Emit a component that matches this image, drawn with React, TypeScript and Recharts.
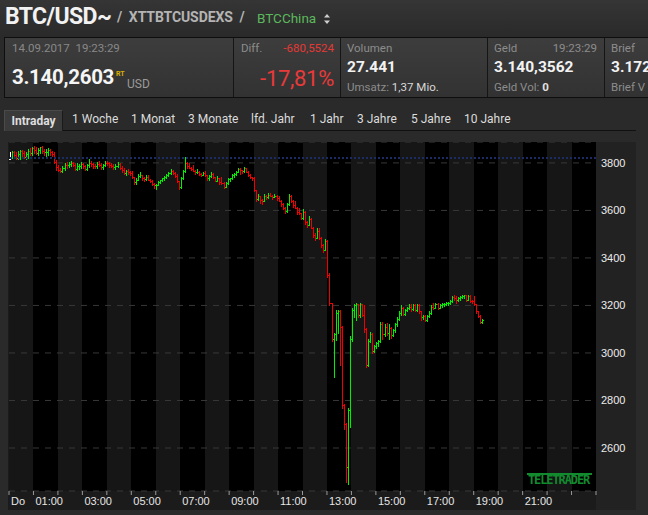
import { ComposedChart, Bar, XAxis, YAxis, CartesianGrid, ReferenceLine } from 'recharts'

// 5-minute OHLC bars, 00:00 .. 19:20 (one row of 12 per hour)
const OPEN = [
  3818, 3826, 3845, 3832, 3820, 3838, 3850, 3840, 3825, 3836, 3852, 3840,
  3862, 3855, 3842, 3856, 3865, 3850, 3845, 3848, 3855, 3845, 3838, 3805,
  3782, 3772, 3765, 3778, 3792, 3790, 3796, 3800, 3790, 3775, 3785, 3788,
  3795, 3785, 3775, 3790, 3800, 3795, 3788, 3785, 3796, 3792, 3782, 3790,
  3800, 3798, 3790, 3788, 3782, 3788, 3795, 3780, 3770, 3758, 3765, 3760,
  3758, 3740, 3718, 3730, 3745, 3748, 3735, 3732, 3742, 3730, 3722, 3712,
  3705, 3708, 3720, 3726, 3735, 3740, 3748, 3756, 3768, 3758, 3745, 3722,
  3700, 3735, 3765, 3800, 3785, 3780, 3775, 3768, 3760, 3762, 3755, 3750,
  3758, 3748, 3735, 3745, 3755, 3740, 3725, 3735, 3720, 3715, 3700, 3715,
  3732, 3735, 3748, 3752, 3762, 3775, 3770, 3765, 3778, 3762, 3750, 3740,
  3735, 3685, 3650, 3660, 3645, 3640, 3660, 3655, 3665, 3662, 3658, 3662,
  3652, 3640, 3628, 3610, 3598, 3625, 3660, 3638, 3622, 3612, 3592, 3588,
  3570, 3595, 3550, 3540, 3565, 3528, 3498, 3485, 3515, 3485, 3455, 3435,
  3470, 3330, 3210, 3058, 3080, 3170, 3178, 3110, 2780, 2700, 2520, 2760,
  3060, 3180, 3200, 3205, 3160, 3205, 3160, 3100, 2950, 3050, 3080, 3010,
  3030, 3040, 3050, 3120, 3080, 3110, 3085, 3105, 3075, 3095, 3120, 3145,
  3170, 3190, 3165, 3180, 3190, 3195, 3185, 3200, 3180, 3200, 3175, 3150,
  3155, 3140, 3155, 3170, 3195, 3190, 3205, 3190, 3200, 3205, 3208, 3210,
  3212, 3220, 3235, 3230, 3225, 3232, 3235, 3240, 3242, 3225, 3240, 3220,
  3218, 3205, 3175, 3155, 3130,
]
const HIGH = [
  3848, 3852, 3852, 3846, 3850, 3855, 3856, 3850, 3848, 3858, 3862, 3868,
  3870, 3866, 3862, 3868, 3870, 3860, 3858, 3862, 3860, 3852, 3845, 3812,
  3792, 3780, 3785, 3798, 3802, 3805, 3808, 3805, 3798, 3800, 3795, 3805,
  3800, 3792, 3795, 3815, 3808, 3800, 3796, 3805, 3806, 3800, 3795, 3806,
  3810, 3805, 3800, 3795, 3795, 3802, 3800, 3785, 3778, 3770, 3775, 3768,
  3768, 3742, 3735, 3752, 3760, 3750, 3740, 3750, 3748, 3734, 3730, 3715,
  3712, 3725, 3730, 3738, 3745, 3752, 3760, 3776, 3772, 3762, 3752, 3725,
  3740, 3772, 3825, 3805, 3798, 3784, 3790, 3772, 3775, 3765, 3758, 3762,
  3765, 3750, 3748, 3762, 3758, 3742, 3745, 3738, 3740, 3718, 3720, 3738,
  3738, 3752, 3758, 3768, 3780, 3778, 3772, 3782, 3780, 3765, 3755, 3742,
  3740, 3688, 3668, 3662, 3650, 3668, 3664, 3672, 3672, 3665, 3668, 3664,
  3660, 3645, 3632, 3614, 3630, 3668, 3665, 3642, 3640, 3615, 3610, 3590,
  3605, 3598, 3555, 3575, 3568, 3532, 3505, 3525, 3525, 3490, 3460, 3480,
  3475, 3335, 3212, 3085, 3180, 3182, 3180, 3115, 2785, 2705, 2770, 3070,
  3190, 3205, 3212, 3208, 3210, 3208, 3200, 3105, 3060, 3090, 3082, 3035,
  3045, 3055, 3130, 3130, 3120, 3125, 3120, 3110, 3100, 3125, 3150, 3175,
  3200, 3195, 3185, 3195, 3205, 3205, 3205, 3205, 3205, 3205, 3178, 3160,
  3160, 3160, 3175, 3200, 3210, 3210, 3210, 3205, 3210, 3212, 3215, 3215,
  3222, 3240, 3242, 3238, 3235, 3238, 3245, 3245, 3245, 3242, 3242, 3225,
  3240, 3208, 3178, 3158, 3145,
]
const LOW = [
  3815, 3820, 3825, 3815, 3815, 3818, 3830, 3822, 3818, 3822, 3832, 3835,
  3840, 3836, 3835, 3840, 3842, 3835, 3830, 3832, 3832, 3830, 3800, 3772,
  3766, 3762, 3762, 3770, 3778, 3782, 3788, 3785, 3770, 3770, 3775, 3780,
  3780, 3770, 3770, 3782, 3788, 3780, 3778, 3778, 3785, 3775, 3776, 3785,
  3792, 3782, 3782, 3776, 3776, 3782, 3775, 3762, 3752, 3750, 3752, 3748,
  3735, 3712, 3712, 3728, 3740, 3728, 3725, 3730, 3728, 3718, 3708, 3695,
  3692, 3706, 3715, 3724, 3730, 3738, 3745, 3754, 3755, 3740, 3720, 3690,
  3695, 3732, 3762, 3780, 3778, 3770, 3765, 3752, 3756, 3750, 3745, 3748,
  3745, 3728, 3730, 3742, 3738, 3722, 3722, 3712, 3712, 3695, 3698, 3712,
  3722, 3732, 3740, 3750, 3760, 3755, 3758, 3762, 3760, 3745, 3738, 3728,
  3680, 3640, 3645, 3632, 3625, 3638, 3648, 3652, 3660, 3650, 3655, 3645,
  3638, 3620, 3605, 3590, 3595, 3622, 3635, 3615, 3610, 3585, 3585, 3565,
  3565, 3542, 3532, 3538, 3525, 3490, 3475, 3482, 3480, 3445, 3425, 3432,
  3320, 3200, 3050, 2898, 3055, 3085, 2950, 2770, 2680, 2455, 2450, 2690,
  3050, 3150, 3140, 3150, 3150, 3155, 3090, 2940, 2945, 3045, 3000, 3005,
  3020, 3030, 3045, 3060, 3070, 3075, 3060, 3065, 3070, 3090, 3115, 3140,
  3160, 3160, 3160, 3175, 3185, 3178, 3180, 3175, 3178, 3170, 3140, 3145,
  3135, 3135, 3150, 3165, 3185, 3188, 3185, 3188, 3195, 3198, 3200, 3202,
  3205, 3215, 3225, 3212, 3220, 3225, 3230, 3232, 3220, 3222, 3215, 3210,
  3200, 3170, 3150, 3125, 3128,
]
const CLOSE = [
  3826, 3845, 3832, 3820, 3838, 3850, 3840, 3825, 3836, 3852, 3840, 3862,
  3855, 3842, 3856, 3865, 3850, 3845, 3848, 3855, 3845, 3838, 3805, 3782,
  3772, 3765, 3778, 3792, 3790, 3796, 3800, 3790, 3775, 3785, 3788, 3795,
  3785, 3775, 3790, 3800, 3795, 3788, 3785, 3796, 3792, 3782, 3790, 3800,
  3798, 3790, 3788, 3782, 3788, 3795, 3780, 3770, 3758, 3765, 3760, 3758,
  3740, 3718, 3730, 3745, 3748, 3735, 3732, 3742, 3730, 3722, 3712, 3705,
  3708, 3720, 3726, 3735, 3740, 3748, 3756, 3768, 3758, 3745, 3722, 3700,
  3735, 3765, 3800, 3785, 3780, 3775, 3768, 3760, 3762, 3755, 3750, 3758,
  3748, 3735, 3745, 3755, 3740, 3725, 3735, 3720, 3715, 3700, 3715, 3732,
  3735, 3748, 3752, 3762, 3775, 3770, 3765, 3778, 3762, 3750, 3740, 3735,
  3685, 3650, 3660, 3645, 3640, 3660, 3655, 3665, 3662, 3658, 3662, 3652,
  3640, 3628, 3610, 3598, 3625, 3660, 3638, 3622, 3612, 3592, 3588, 3570,
  3595, 3550, 3540, 3565, 3528, 3498, 3485, 3515, 3485, 3455, 3435, 3470,
  3330, 3210, 3058, 3080, 3170, 3178, 3110, 2780, 2700, 2520, 2760, 3060,
  3180, 3200, 3205, 3160, 3205, 3160, 3100, 2950, 3050, 3080, 3010, 3030,
  3040, 3050, 3120, 3080, 3110, 3085, 3105, 3075, 3095, 3120, 3145, 3170,
  3190, 3165, 3180, 3190, 3195, 3185, 3200, 3180, 3200, 3175, 3150, 3155,
  3140, 3155, 3170, 3195, 3190, 3205, 3190, 3200, 3205, 3208, 3210, 3212,
  3220, 3235, 3230, 3225, 3232, 3235, 3240, 3242, 3225, 3240, 3220, 3218,
  3205, 3175, 3155, 3130, 3140,
]

const BAR_MINUTES = 5
const PREV_CLOSE = 3820.81
const Y_TICKS = [2600, 2800, 3000, 3200, 3400, 3600, 3800]
const HOUR_TICKS = [
  0, 60, 120, 180, 240, 300, 360, 420, 480, 540, 600, 660, 720,
  780, 840, 900, 960, 1020, 1080, 1140, 1200, 1260, 1320, 1380, 1440,
]
const HOUR_LABELS: Record<number, string> = {
  0: 'Do', 60: '01:00', 180: '03:00', 300: '05:00', 420: '07:00', 540: '09:00',
  660: '11:00', 780: '13:00', 900: '15:00', 1020: '17:00', 1140: '19:00', 1260: '21:00',
}
const TABS = ['Intraday', '1 Woche', '1 Monat', '3 Monate', 'lfd. Jahr', '1 Jahr', '3 Jahre', '5 Jahre', '10 Jahre']
const TAB_X = [4, 72, 131, 188, 251, 310, 357, 411, 464]

const rows = OPEN.map((open, i) => ({
  t: i * BAR_MINUTES + BAR_MINUTES / 2,
  range: [LOW[i], HIGH[i]],
  open,
  close: CLOSE[i],
}))

const UP = '#00f000'
const DOWN = '#f00000'

function OhlcBar(props: any) {
  const { x, y, width, height, payload, index } = props
  if (!payload) return null
  const [low, high] = payload.range
  const top = Math.min(y, y + height)
  const bottom = Math.max(y, y + height)
  const span = high - low || 1
  const toY = (v: number) => Math.round(top + ((high - v) / span) * (bottom - top))
  const px = Math.round(x + width / 2 - 0.5)
  // the session's first bar is drawn white, as in the terminal
  const color = index === 0 ? '#ffffff' : payload.close >= payload.open ? UP : DOWN
  const yt = Math.round(top)
  return (
    <g fill={color} shapeRendering="crispEdges">
      <rect x={px} y={yt} width={1} height={Math.max(1, Math.round(bottom) - yt + 1)} />
      <rect x={px - 1} y={toY(payload.open)} width={1} height={1} />
      <rect x={px + 1} y={toY(payload.close)} width={1} height={1} />
    </g>
  )
}

function HourTick(props: any) {
  const { x, y, payload } = props
  const label = HOUR_LABELS[payload.value]
  if (!label) return null
  return (
    <text x={x + 2} y={y + 8} fill="#e6e6e6" fontSize={11} fontFamily="'Liberation Sans', Arial, sans-serif" textAnchor="start">
      {label}
    </text>
  )
}

function PriceTick(props: any) {
  const { x, y, payload } = props
  return (
    <text x={x + 3} y={y + 4} fill="#ececec" fontSize={11} fontFamily="'Liberation Sans', Arial, sans-serif" textAnchor="start">
      {payload.value}
    </text>
  )
}

const gray = '#8c8c8c'
const abs = (left: number, top: number, extra: any = {}) => ({ position: 'absolute' as const, left, top, whiteSpace: 'nowrap' as const, ...extra })

export default function App() {
  return (
    <div style={{ position: 'fixed', left: 0, top: 0, width: 648, height: 515, overflow: 'hidden', background: '#2a2a2a', fontFamily: 'Roboto, "Liberation Sans", sans-serif' }}>
      <div style={abs(0, 0, { width: 648, height: 36, background: 'linear-gradient(#353535, #2a2a2a)' })} />
      <div style={abs(5, 3, { fontSize: 23, fontWeight: 700, color: '#f2f2f2', letterSpacing: -0.6 })}>BTC/USD~</div>
      <div style={abs(117, 9, { fontSize: 14, fontWeight: 700, color: '#b4b4b4', letterSpacing: -0.1 })}>/&nbsp; XTTBTCUSDEXS &nbsp;/</div>
      <div style={abs(257, 10, { fontSize: 13.5, color: '#5cb85c' })}>BTCChina</div>
      <svg style={abs(323, 13)} width={8} height={12}>
        <path d="M1 4.5 L4 1 L7 4.5 Z M1 7.5 L4 11 L7 7.5 Z" fill="#cfcfcf" />
      </svg>

      <div style={abs(4, 37, { width: 660, height: 59, border: '1px solid #0e0e0e', background: 'linear-gradient(#3d3d3d, #323232)' })} />
      {[233, 340, 487, 604].map((bx) => (
        <div key={bx} style={abs(bx, 38, { width: 1, height: 59, background: '#151515' })} />
      ))}
      <div style={abs(12, 41, { fontSize: 11.5, color: '#888' })}>14.09.2017&nbsp; 19:23:29</div>
      <div style={abs(12, 65, { fontSize: 20.5, fontWeight: 700, color: '#f5f5f5', letterSpacing: -0.3 })}>3.140,2603</div>
      <div style={abs(116, 70, { fontSize: 7, fontWeight: 700, color: '#d9ad00' })}>RT</div>
      <div style={abs(127, 77, { fontSize: 12, color: '#9a9a9a' })}>USD</div>

      <div style={abs(241, 41, { fontSize: 11.5, color: gray })}>Diff.</div>
      <div style={abs(234, 41, { width: 100, textAlign: 'right', fontSize: 11.5, color: '#e53935' })}>-680,5524</div>
      <div style={abs(234, 66, { width: 100, textAlign: 'right', fontSize: 22, color: '#e83a3a', letterSpacing: -0.3 })}>-17,81%</div>

      <div style={abs(347, 41, { fontSize: 11.5, color: gray })}>Volumen</div>
      <div style={abs(347, 58, { fontSize: 15.5, fontWeight: 700, color: '#f2f2f2' })}>27.441</div>
      <div style={abs(347, 80, { fontSize: 11.5, color: gray })}>Umsatz: <span style={{ color: '#d8d8d8' }}>1,37 Mio.</span></div>

      <div style={abs(494, 41, { fontSize: 11.5, color: gray })}>Geld</div>
      <div style={abs(488, 41, { width: 109, textAlign: 'right', fontSize: 11.5, color: gray })}>19:23:29</div>
      <div style={abs(494, 58, { fontSize: 15.5, fontWeight: 700, color: '#f2f2f2' })}>3.140,3562</div>
      <div style={abs(494, 80, { fontSize: 11.5, color: gray })}>Geld Vol: <span style={{ color: '#e0e0e0', fontWeight: 700 }}>0</span></div>

      <div style={abs(611, 41, { fontSize: 11.5, color: gray })}>Brief</div>
      <div style={abs(611, 58, { fontSize: 15.5, fontWeight: 700, color: '#f2f2f2' })}>3.172</div>
      <div style={abs(611, 80, { fontSize: 11.5, color: gray })}>Brief V</div>

      <div style={abs(4, 130, { width: 632, height: 1, background: '#111' })} />
      {TABS.map((tab, i) =>
        i === 0 ? (
          <div key={tab} style={abs(TAB_X[i], 110, { width: 57, height: 20, background: '#3a3a3a', borderTop: '1px solid #4a4a4a', borderLeft: '1px solid #4a4a4a', borderRight: '1px solid #1a1a1a', fontSize: 12, fontWeight: 700, color: '#dedede', textAlign: 'center', lineHeight: '21px' })}>
            {tab}
          </div>
        ) : (
          <div key={tab} style={abs(TAB_X[i], 112, { fontSize: 12, color: '#dcdcdc', lineHeight: '15px' })}>
            {tab}
          </div>
        ),
      )}

      <div style={abs(8, 142, { width: 628, height: 368, background: '#1b1b1b' })}>
        <div style={abs(588, 0, { width: 40, height: 368, background: '#222' })} />
        <div style={abs(0, 0)}>
          <ComposedChart width={628} height={368} data={rows} margin={{ top: 0, right: 0, bottom: 0, left: 1 }}>
            <CartesianGrid horizontal={false} stroke="none" verticalFill={['#161616', '#000000']} fillOpacity={1} />
            <CartesianGrid vertical={false} stroke="#383838" strokeDasharray="6 6" />
            <XAxis
              type="number"
              dataKey="t"
              domain={[0, 1440]}
              ticks={HOUR_TICKS}
              interval={0}
              height={19}
              axisLine={false}
              tickLine={{ stroke: '#9a9a9a' }}
              tickSize={4}
              tickMargin={2}
              tick={<HourTick />}
              allowDataOverflow
            />
            <YAxis
              orientation="right"
              type="number"
              domain={[2419, 3888]}
              ticks={Y_TICKS}
              interval={0}
              width={40}
              axisLine={false}
              tickLine={false}
              tickSize={0}
              tick={<PriceTick />}
              allowDataOverflow
            />
            <ReferenceLine y={PREV_CLOSE} stroke="#1a2c66" strokeWidth={2} strokeDasharray="2 2" />
            <Bar dataKey="range" barSize={2} shape={<OhlcBar />} isAnimationActive={false} />
          </ComposedChart>
        </div>
        <div style={abs(519, 331, { width: 65, height: 14 })}>
          <div style={{ position: 'absolute', left: 0, top: 0, width: 65, height: 2, background: '#128a2e' }} />
          <div style={{ position: 'absolute', left: 1, top: 0, fontSize: 12, fontWeight: 700, color: '#128a2e', fontFamily: '"DejaVu Sans Mono", monospace', letterSpacing: -1.1, lineHeight: '15px' }}>
            TELETRADER
          </div>
        </div>
      </div>
    </div>
  )
}
